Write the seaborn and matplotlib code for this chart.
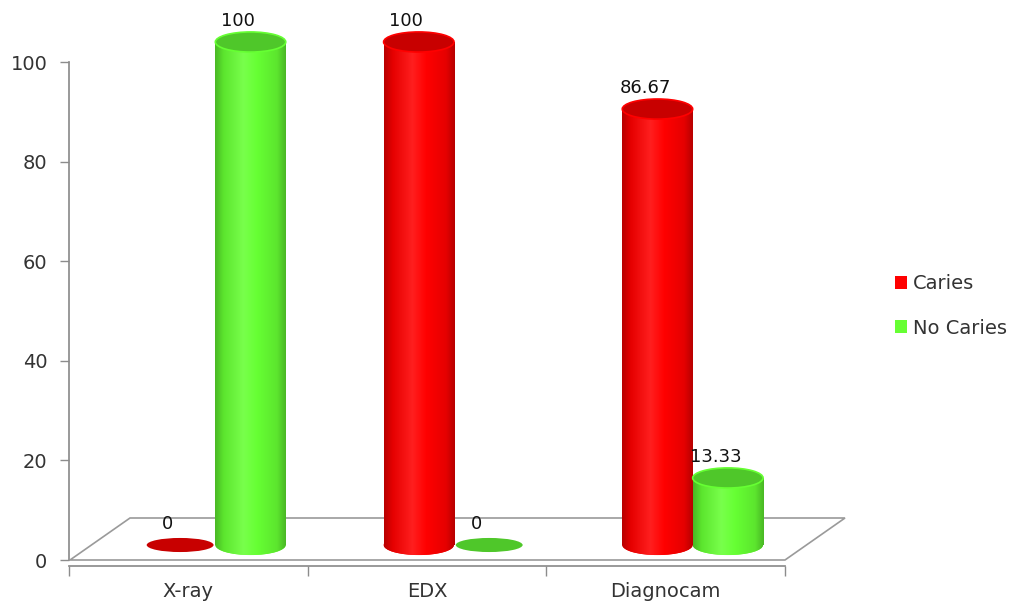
import numpy as np
import pandas as pd
import matplotlib
matplotlib.use("Agg")
import matplotlib.pyplot as plt
from matplotlib.patches import Ellipse, Polygon, Patch
from matplotlib.colors import LinearSegmentedColormap, to_rgb
import seaborn as sns

# ---- data ----
methods = ["X-ray", "EDX", "Diagnocam"]
caries = [0, 100, 86.67]
no_caries = [100, 0, 13.33]
series_names = ["Caries", "No Caries"]
y_ticks = [0, 20, 40, 60, 80, 100]

colors = {"Caries": "#FF0000", "No Caries": "#66FF33"}
top_colors = {"Caries": "#C80000", "No Caries": "#4FC72A"}

df = pd.DataFrame({
    "Method": methods * 2,
    "Percent": caries + no_caries,
    "Result": [series_names[0]] * 3 + [series_names[1]] * 3,
})

sns.set_theme(style="white")
plt.rcParams["font.family"] = ["DejaVu Sans"]
FS = 14
FS_LAB = 13
TXT = "#333333"

W, H = 1015, 605
fig = plt.figure(figsize=(W / 100, H / 100), dpi=100)

def fx(px):
    return px / W

def fy(py):
    return 1 - py / H

# axis frame (value axis + category axis)
ax = fig.add_axes([fx(69), fy(560), fx(785 - 69), (560 - 62) / H])
ax.set_zorder(0)
ax.set_xlim(-0.5, 2.5)
ax.set_ylim(0, 100)
for s in ["top", "right"]:
    ax.spines[s].set_visible(False)
ax.spines["left"].set_color("#8c8c8c")
ax.spines["bottom"].set_color("#8c8c8c")
ax.spines["bottom"].set_position(("outward", 4))
ax.set_yticks(y_ticks)
ax.set_yticklabels([str(t) for t in y_ticks])
ax.tick_params(axis="y", length=6.5, width=1, color="#8c8c8c", labelsize=FS,
               labelcolor=TXT, pad=9, left=True)
ax.set_xticks([-0.5, 0.5, 1.5, 2.5])
ax.set_xticklabels([])
ax.tick_params(axis="x", which="major", length=7, width=1, color="#8c8c8c",
               bottom=True, direction="out")
ax.set_xticks(range(len(methods)), minor=True)
ax.set_xticklabels(methods, minor=True)
ax.tick_params(axis="x", which="minor", length=0, labelsize=FS,
               labelcolor=TXT, pad=12)
ax.set_xlabel("")
ax.set_ylabel("")
ax.patch.set_alpha(0)

# 3D-like floor
floor = Polygon([(fx(70), fy(560)), (fx(130), fy(518)), (fx(845), fy(518)),
                 (fx(785), fy(560))], closed=True, fill=False,
                edgecolor="#9a9a9a", lw=1.2, transform=fig.transFigure,
                clip_on=False)
ax.add_patch(floor)

# bars axes (shifted for depth); 100 units = 503 px, floor level at y=545 px
YMIN = -6
unit_px = 503 / 100
ax2 = fig.add_axes([fx(96), fy(545 - YMIN * unit_px), fx(716),
                    (100 - YMIN) * unit_px / H])
ax2.set_zorder(1)
ax2.patch.set_alpha(0)
sns.barplot(data=df, x="Method", y="Percent", hue="Result",
            hue_order=series_names, order=methods, palette=colors,
            saturation=1, width=0.59, dodge=True, legend=False, ax=ax2,
            errorbar=None)
ax2.set_xlim(-0.5, 2.5)
ax2.set_ylim(YMIN, 100)
ax2.axis("off")

def shade_cmap(base):
    r, g, b = to_rgb(base)
    dark = (r * 0.72, g * 0.72, b * 0.72)
    mid = (r * 0.9, g * 0.9, b * 0.9)
    light = tuple(min(1, c + (1 - c) * 0.12) for c in (r, g, b))
    return LinearSegmentedColormap.from_list(
        "s", [(0, dark), (0.12, mid), (0.4, light), (0.6, base),
              (0.88, mid), (1, dark)])

ell_h = 4.0
flat_h = 2.8
n = len(methods)
grad = np.linspace(0, 1, 200).reshape(1, -1)
for i, p in enumerate(ax2.patches[: 2 * n]):
    name = series_names[i // n]
    base = colors[name]
    x0, w, h = p.get_x(), p.get_width(), p.get_height()
    cx = x0 + w / 2
    if h > 0:
        p.set_edgecolor("none")
        im = ax2.imshow(grad, extent=[x0, x0 + w, 0, h], aspect="auto",
                        cmap=shade_cmap(base), zorder=2, origin="lower")
        im.set_clip_path(p)
        bot = Ellipse((cx, 0), w, ell_h, facecolor=base, edgecolor="none",
                      zorder=1.5, clip_on=False)
        ax2.add_patch(bot)
        im2 = ax2.imshow(grad, extent=[x0, x0 + w, -ell_h / 2, ell_h / 2],
                         aspect="auto", cmap=shade_cmap(base), zorder=1.6,
                         origin="lower")
        im2.set_clip_path(bot)
        top = Ellipse((cx, h), w, ell_h, facecolor=top_colors[name],
                      edgecolor=base, lw=1.2, zorder=3, clip_on=False)
        ax2.add_patch(top)
        label_y = h
    else:
        flat = Ellipse((cx, 0), w * 0.95, flat_h, facecolor=top_colors[name],
                       edgecolor="none", zorder=3, clip_on=False)
        ax2.add_patch(flat)
        label_y = 0
    v = caries[i] if i < n else no_caries[i - n]
    ax2.annotate(f"{v:g}", (cx, label_y), xytext=(-9, 15),
                 textcoords="offset points", ha="center", va="center",
                 fontsize=FS_LAB, color="#111111", zorder=5,
                 annotation_clip=False)
ax2.set_ylim(YMIN, 100)
ax2.set_xlim(-0.5, 2.5)

# legend
handles = [Patch(facecolor=colors[s], edgecolor="none", label=s)
           for s in series_names]
fig.legend(handles=handles, loc="center left",
           bbox_to_anchor=(fx(887), fy(306)), frameon=False, fontsize=FS,
           handlelength=0.65, handleheight=0.65, handletextpad=0.3,
           labelspacing=1.3, labelcolor=TXT, borderaxespad=0)

fig.savefig("out.png", dpi=100)
